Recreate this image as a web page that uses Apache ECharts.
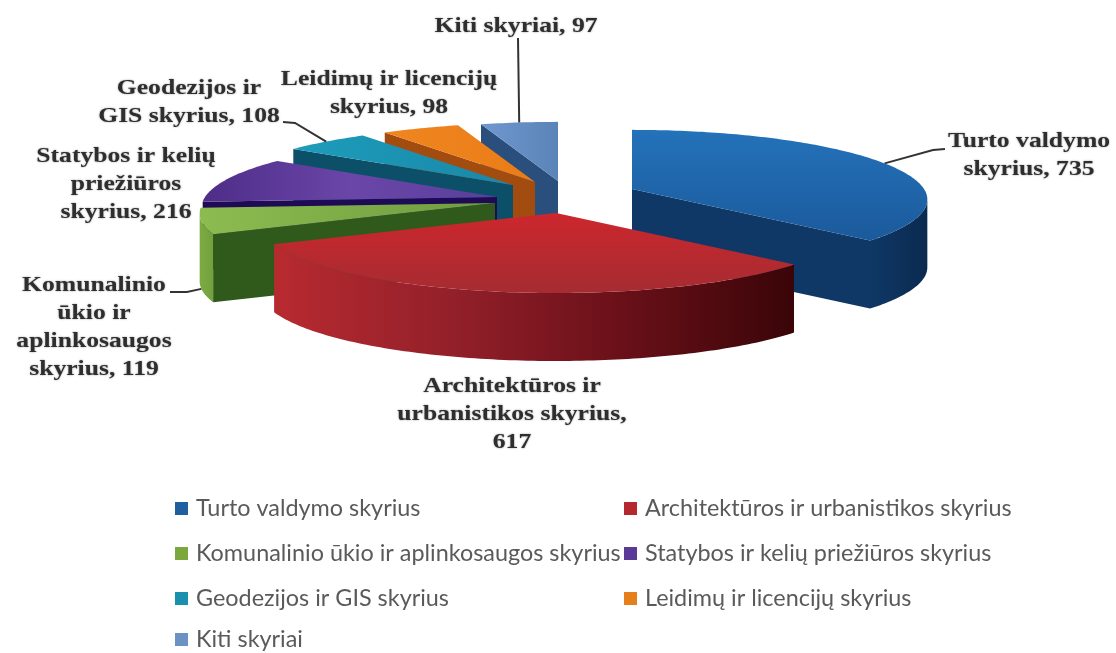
<!DOCTYPE html>
<html><head><meta charset="utf-8">
<style>html,body{margin:0;padding:0;background:#fff}#c{width:1116px;height:653px}</style>
<script src="https://cdn.jsdelivr.net/npm/echarts@6/dist/echarts.min.js"></script>
</head><body><div id="c"></div>
<script>
const categories = ["Turto valdymo skyrius","Architektūros ir urbanistikos skyrius","Komunalinio ūkio ir aplinkosaugos skyrius","Statybos ir kelių priežiūros skyrius","Geodezijos ir GIS skyrius","Leidimų ir licencijų skyrius","Kiti skyriai"];
const values = [735,617,119,216,108,98,97];
const labelNames = [["Turto valdymo","skyrius"],["Architektūros ir","urbanistikos skyrius"],["Komunalinio","ūkio ir","aplinkosaugos","skyrius"],["Statybos ir kelių","priežiūros","skyrius"],["Geodezijos ir","GIS skyrius"],["Leidimų ir licencijų","skyrius"],["Kiti skyriai"]];
// the value of Architektūros wraps onto its own line in the reference
const valueOnOwnLine = [false,true,false,false,false,false,false];

// layout / style
const A=292,B=68,P=0.15,DEPTH=68;
const RIM_FROM=Math.acos(-P)*180/Math.PI, RIM_TO=360-RIM_FROM; // silhouette of the rim
const apex=[[632,189],[556,213],[495,203],[497,197],[513,185],[535,182],[558,181]];
const zOf=[5,7,4,3,2,1,0]; // painter order
const labelPos=[[1029,141],[512,386],[94,285],[126,156],[189,88],[389,79],[516,26]];
const leader=[
 {pts:[[933,150],[945,149]],onRim:false},null,
 {pts:[[187,292],[170,292]],onRim:true},null,
 {pts:[[295,123],[283,122]],onRim:false},null,
 {pts:[[518,38]],onRim:false}];
const grad=(dir,...c)=>({type:'linear',x:0,y:0,x2:dir==='h'?1:0,y2:dir==='h'?0:1,colorStops:c.map((col,i)=>({offset:i/(c.length-1),color:col}))});
const swatch=["#1f5f9f","#b5282e","#7aa83f","#5a3a96","#1a8fae","#e57f1c","#6a92c4"];
const topFill=[grad('v','#2472ba','#1b5a9c'),grad('v','#cc272d','#a52c32'),grad('h','#8cbc50','#6f9c3f'),grad('h','#4e2d88','#6a46a8','#5a3f9c'),grad('h','#1d9dbb','#1a87a8'),grad('h','#f0861f','#ea7c18'),grad('h','#7098cf','#5a84b8')];
const wallFill=["#0f3866","#5a0c12","#2f5a1c","#1f0a55","#0b4f68","#a34c10","#2a4f7c"];
const rimFill=[grad('h','#0f3866','#0a2a50'),grad('h','#b82a30','#94202a','#6a1019','#3a0508'),grad('h','#7dab42','#72a03c'),'#1f0a55','#0b4f68','#a34c10','#2a4f7c'];

const total=values.reduce((a,b)=>a+b,0);
const starts=[];values.reduce((acc,v,i)=>{starts[i]=acc;return acc+v;},0);
const deg=v=>v/total*360;
const proj=(c,d,down=0)=>{const r=d*Math.PI/180,X=Math.sin(r),Y=Math.cos(r),s=1/(1+P*Y);return [c[0]+A*X*s,c[1]-B*Y*s+down];};
const arc=(c,a,b,down=0)=>{const o=[];const n=Math.max(2,Math.ceil(b-a));for(let i=0;i<=n;i++)o.push(proj(c,a+(b-a)*i/n,down));return o;};

function renderSlice(i,api){
  const a=deg(starts[i]),b=a+deg(api.value(0)),c=apex[i],kids=[];
  const poly=(points,fill)=>kids.push({type:'polygon',shape:{points},style:{fill,stroke:null}});
  const mid=proj(c,(a+b)/2);
  [a,b].forEach(e=>{
    const t=proj(c,e);
    if(Math.abs(t[0]-c[0])<1)return;
    const ly=c[1]+(t[1]-c[1])*(mid[0]-c[0])/(t[0]-c[0]);
    if(mid[1]<ly) poly([c,t,[t[0],t[1]+DEPTH],[c[0],c[1]+DEPTH]],wallFill[i]);
  });
  const ra=Math.max(a,RIM_FROM),rb=Math.min(b,RIM_TO);
  if(rb>ra) poly(arc(c,ra,rb).concat(arc(c,ra,rb,DEPTH).reverse()),rimFill[i]);
  poly([c].concat(arc(c,a,b)),topFill[i]);
  return {type:'group',children:kids};
}
function renderLabel(i,api){
  const kids=[],v=api.value(0),names=labelNames[i].slice();
  const lines=valueOnOwnLine[i]?names.map((n,k)=>k===names.length-1?n+',':n).concat(String(v)):names.map((n,k)=>k===names.length-1?n+', '+v:n);
  kids.push({type:'text',x:labelPos[i][0],y:labelPos[i][1]-14,scaleX:1.165,z2:50,style:{text:lines.join('\n'),align:'center',verticalAlign:'top',font:'bold 22px "Liberation Serif"',lineHeight:28,fill:'#2e2e2e',textShadowColor:'rgba(60,60,60,0.55)',textShadowBlur:2}});
  if(leader[i]){
    const a=deg(starts[i]),b=a+deg(v);
    const m=proj(apex[i],(a+b)/2,leader[i].onRim?DEPTH:0);
    kids.push({type:'polyline',z2:49,shape:{points:[m].concat(leader[i].pts)},style:{fill:null,stroke:'#333',lineWidth:2}});
  }
  return {type:'group',children:kids};
}
const series=categories.map((name,i)=>({
  name,type:'custom',coordinateSystem:'none',z:zOf[i]+2,silent:true,animation:false,
  itemStyle:{color:swatch[i]},data:[[values[i]]],
  renderItem:(p,api)=>renderSlice(i,api)
})).concat(categories.map((name,i)=>({
  name:name+' label',type:'custom',coordinateSystem:'none',z:20,silent:true,animation:false,
  data:[[values[i]]],renderItem:(p,api)=>renderLabel(i,api)
})));
const legendBase={orient:'vertical',icon:'rect',itemWidth:13,itemHeight:13,itemGap:22,selectedMode:false,textStyle:{fontFamily:'Lato',fontSize:23.4,color:'#5a5a5a',padding:[0,0,0,3]}};
const chart=echarts.init(document.getElementById('c'),null,{renderer:'canvas'});
chart.setOption({
  backgroundColor:'#fff',animation:false,
  legend:[
   Object.assign({},legendBase,{left:170,top:492,data:[categories[0],categories[2],categories[4]]}),
   Object.assign({},legendBase,{left:619,top:492,data:[categories[1],categories[3],categories[5]]}),
   Object.assign({},legendBase,{left:170,top:623,data:[categories[6]]})
  ],
  series
});
</script></body></html>
